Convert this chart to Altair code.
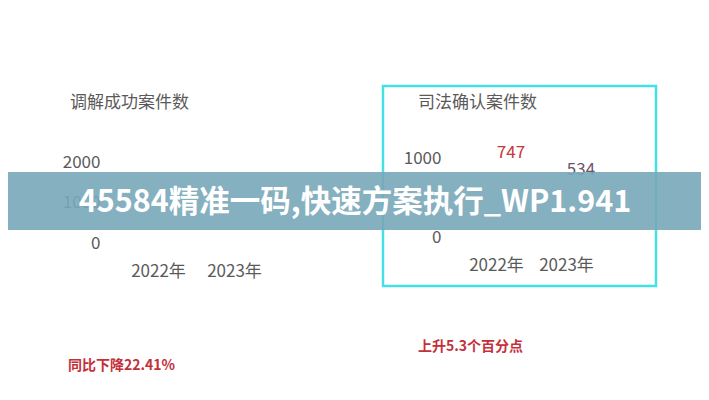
import altair as alt
import pandas as pd

years = ["2022年", "2023年"]
left_title = "调解成功案件数"
left_ticks = [0, 1000, 2000]
left_note = "同比下降22.41%"

right_title = "司法确认案件数"
right_values = [747, 534]
right_ticks = [0, 1000]
right_note = "上升5.3个百分点"

banner_text = "45584精准一码,快速方案执行_WP1.941"

FONT = "Noto Sans CJK SC"
GREY = "#5a5a5a"
RED = "#c4303a"

W, H = 693, 384


def axis_y(values, offset):
    return alt.Axis(values=values, format="d", orient="left", offset=offset, domain=False,
                    ticks=False, tickSize=0, grid=False, labelPadding=0, labelFont=FONT,
                    labelFontSize=17, labelColor=GREY, title=None)


def axis_x(offset):
    return alt.Axis(orient="bottom", offset=offset, domain=False, ticks=False, tickSize=0,
                    grid=False, labelPadding=0, labelFont=FONT, labelFontSize=17,
                    labelColor=GREY, labelAngle=0, title=None)


left_df = pd.DataFrame({"year": years})
left = alt.Chart(left_df).mark_point(opacity=0).encode(
    x=alt.X("year:N", sort=years, scale=alt.Scale(type="point", range=[150, 226], padding=0),
            axis=axis_x(-129)),
    y=alt.Y(datum=0, type="quantitative", scale=alt.Scale(domain=[0, 2000], range=[235, 154]),
            axis=axis_y(left_ticks, -92)),
)

right_df = pd.DataFrame({"year": years, "value": right_values,
                         "color": ["#c8353f", "#6f5566"]})
rx = alt.X("year:N", sort=years, scale=alt.Scale(type="point", range=[488, 558], padding=0),
           axis=axis_x(-135))
ry = alt.Y("value:Q", scale=alt.Scale(domain=[0, 1000], range=[229, 150]),
           axis=axis_y(right_ticks, -433))
right = alt.Chart(right_df).mark_text(font=FONT, fontSize=17, dx=15, dy=-25).encode(
    x=rx, y=ry, text="value:Q", color=alt.Color("color:N", scale=None)
)

deco_df = pd.DataFrame({"a": [0]})
base = alt.Chart(deco_df)


def label(text, x, y, size, color, weight="normal", align="left"):
    return base.mark_text(text=text, font=FONT, fontSize=size, color=color, fontWeight=weight,
                          align=align, baseline="middle").encode(x=alt.value(x), y=alt.value(y))


border = base.mark_rect(fill=None, stroke="#45dfe6", strokeWidth=2.5).encode(
    x=alt.value(375), x2=alt.value(648), y=alt.value(78), y2=alt.value(278))

banner = base.mark_rect(fill="#78a7b8", opacity=0.9).encode(
    x=alt.value(-8), x2=alt.value(701), y=alt.value(164), y2=alt.value(222))

decor = alt.layer(
    border,
    label(left_title, 62, 95, 17, GREY),
    label(right_title, 410, 95, 17, GREY),
    label(left_note, 60, 358, 14, RED, "bold"),
    label(right_note, 410, 339, 14, RED, "bold"),
)

top = alt.layer(
    banner,
    label(banner_text, 347, 195, 30.5, "white", "bold", "center"),
)

chart = alt.layer(left, right, decor, top).resolve_scale(
    x="independent", y="independent"
).properties(
    width=W, height=H, autosize=alt.AutoSizeParams(type="none"), padding=0, background="white"
).configure_view(stroke=None)

chart.save("out.html", embed_options={"renderer": "svg", "actions": False})
